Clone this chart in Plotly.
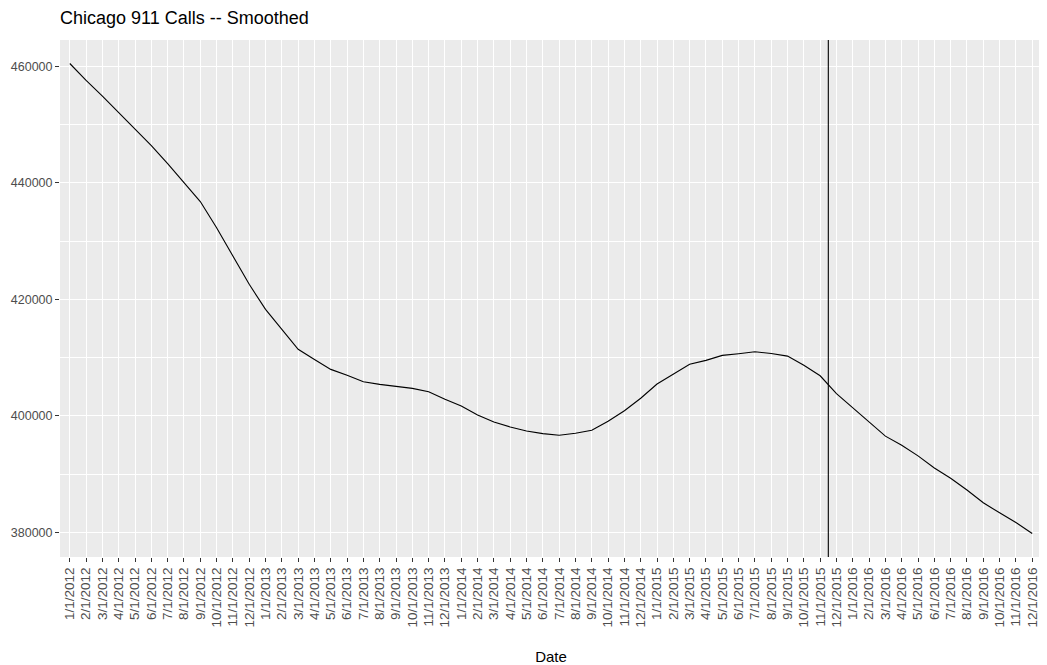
import plotly.graph_objects as go

# Months (x categories)
months = [f"{m}/1/{y}" for y in range(2012, 2017) for m in range(1, 13)]

# Smoothed 911 call counts
calls = [
    460500, 457600, 454900, 452100, 449300, 446400, 443300, 440100, 436800, 432300,
    427450, 422600, 418300, 414850, 411450, 409700, 408000, 406980, 405890, 405430,
    405140, 404740, 404170, 402860, 401710, 400170, 398970, 398110, 397430, 396970,
    396690, 397030, 397540, 399100, 400900, 403050, 405480, 407180, 408870, 409550,
    410400, 410680, 411020, 410730, 410280, 408700, 406900, 403850, 401440, 399020,
    396540, 394990, 393150, 391070, 389310, 387290, 385100, 383380, 381710, 379830,
]

# Cutoff marker position (between 11/1/2015 and 12/1/2015)
cutoff_pos = 46.5

y_major = [380000, 400000, 420000, 440000, 460000]
y_minor = [390000, 410000, 430000, 450000]
y_labels = [str(v) for v in y_major]

lo, hi = min(calls), max(calls)
pad = (hi - lo) * 0.05

# The page body has an 8px margin; size the figure to fill the rest of the window.
W, H = 1039, 657

fig = go.Figure()
fig.add_trace(go.Scatter(
    x=months, y=calls, mode="lines",
    line=dict(color="black", width=1.1),
    hoverinfo="x+y", showlegend=False,
))

fig.add_shape(type="line", xref="x", yref="paper",
              x0=cutoff_pos, x1=cutoff_pos, y0=0, y1=1,
              line=dict(color="black", width=1.1))

font_family = "Liberation Sans, Arial, sans-serif"

fig.update_layout(
    width=W, height=H,
    margin=dict(l=52, r=5, t=32, b=108),
    paper_bgcolor="white",
    plot_bgcolor="#EBEBEB",
    font=dict(family=font_family, color="#4D4D4D", size=12),
    title=dict(text="Chicago 911 Calls -- Smoothed",
               x=0, xref="paper", xanchor="left",
               y=1 - 10 / H, yref="container", yanchor="middle",
               font=dict(size=18, color="black", family=font_family)),
    xaxis=dict(
        type="category",
        categoryorder="array", categoryarray=months,
        range=[-0.6, len(months) - 1 + 0.6],
        tickangle=-90,
        showgrid=True, gridcolor="white", gridwidth=1.4,
        ticks="outside", ticklen=4, tickcolor="#333333", tickwidth=1,
        tickfont=dict(size=13.5, color="#4D4D4D"),
        showline=False, zeroline=False,
        title=dict(text="Date", font=dict(size=15, color="black"), standoff=27),
        automargin=False,
    ),
    yaxis=dict(
        range=[lo - pad, hi + pad],
        tickvals=y_major, ticktext=y_labels,
        showgrid=True, gridcolor="white", gridwidth=1.4,
        minor=dict(tickvals=y_minor,
                   showgrid=True, gridcolor="white", gridwidth=0.7, ticks=""),
        ticks="outside", ticklen=4, tickcolor="#333333", tickwidth=1,
        tickfont=dict(size=12.5, color="#4D4D4D"),
        showline=False, zeroline=False,
        automargin=False,
    ),
)

fig.write_html("out.html")
